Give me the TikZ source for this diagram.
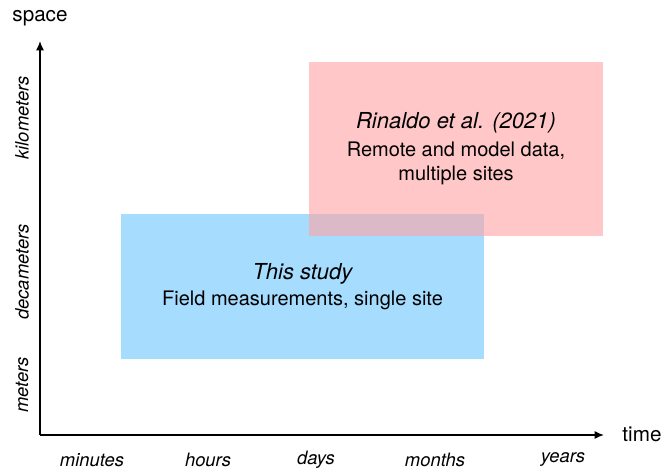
\documentclass[tikz,border=0pt]{standalone}
\usepackage{fontspec}
\setmainfont{TeX Gyre Heros}
\usepackage{xcolor}
\usetikzlibrary{arrows.meta}

\definecolor{studyblue}{RGB}{166,220,254}
\definecolor{rinaldopink}{RGB}{255,162,162}

\begin{document}
\begin{tikzpicture}[x=0.75pt, y=0.75pt,
	axis/.style={line width=1.1pt, -{Latex[length=7pt, width=6pt]}},
	ticklabel/.style={font=\fontsize{13.8}{16}\selectfont\itshape},
	boxlabel/.style={font=\fontsize{15}{18}\selectfont, align=center, inner sep=0pt, anchor=center}]
	\useasboundingbox (0,0) rectangle (665,469);
	% axes
	\coordinate (origin) at (40,34);
	\coordinate (spacetip) at (40,428);
	\coordinate (timetip) at (604,34);
	\draw[axis] (origin) -- (spacetip);
	\draw[axis] (origin) -- (timetip);
	\node[font=\fontsize{15.5}{18}\selectfont] at (40,451)(space){space};
	\node[font=\fontsize{15.5}{18}\selectfont] at (642,35)(time){time};
	% scales on the axes
	\node[ticklabel, rotate=90] at (22,351)(kilometers){kilometers};
	\node[ticklabel, rotate=90] at (22,197)(decameters){decameters};
	\node[ticklabel, rotate=90] at (22,84)(meters){meters};
	\node[ticklabel] at (92,9)(minutes){minutes};
	\node[ticklabel] at (208,9)(hours){hours};
	\node[ticklabel] at (316,9)(days){days};
	\node[ticklabel] at (435,9)(months){months};
	\node[ticklabel] at (563,9)(years){years};
	% the two studies
	\node[boxlabel, minimum width=272.25pt, minimum height=108.75pt, fill=studyblue] at (302.5,182.5)(thisstudy){{\fontsize{16.5}{18}\selectfont\itshape This study}\\[1pt]Field measurements, single site};
	\node[boxlabel, minimum width=220.5pt, minimum height=130.5pt, fill=rinaldopink, fill opacity=0.6, text opacity=1] at (456,320)(rinaldo){{\fontsize{16.5}{18}\selectfont\itshape Rinaldo et al. (2021)}\\[3pt]Remote and model data,\\multiple sites};
\end{tikzpicture}
\end{document}
